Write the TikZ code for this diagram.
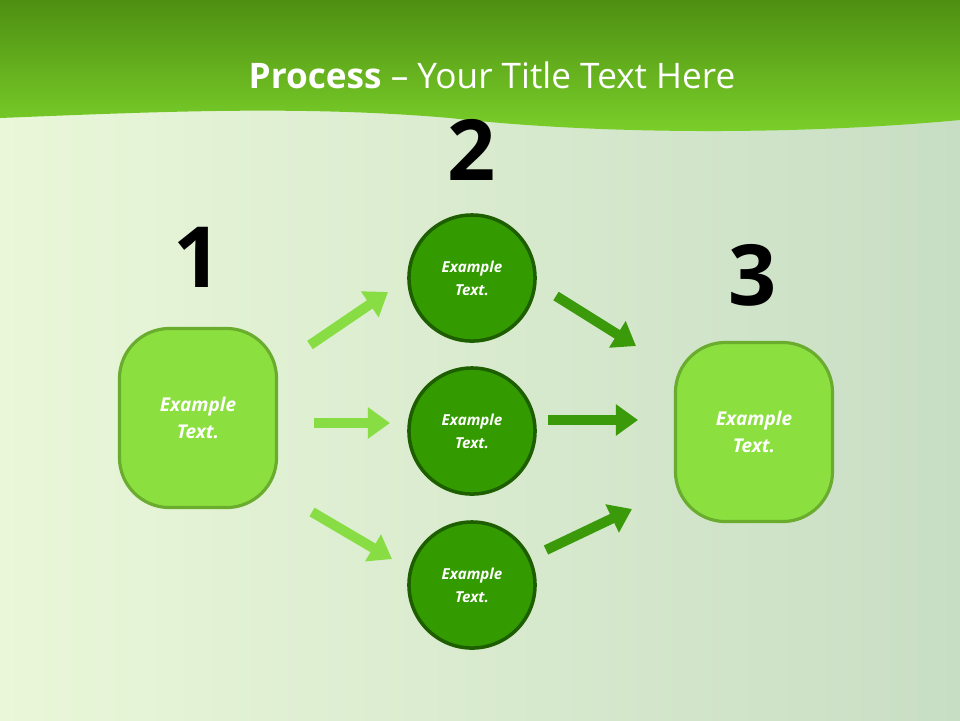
\documentclass[tikz,border=0pt]{standalone}
\usepackage{fontspec}
\setmainfont{Open Sans}
\usetikzlibrary{arrows.meta, positioning, shadings}
\definecolor{lightleaf}{HTML}{8BE03F}
\definecolor{leafedge}{HTML}{6AAC2E}
\definecolor{darkleaf}{HTML}{339A00}
\definecolor{darkedge}{HTML}{1D5E00}
\definecolor{lightarrow}{HTML}{88DD44}
\definecolor{darkarrow}{HTML}{3A9A0A}
\definecolor{headtop}{HTML}{4E8F12}
\definecolor{headbot}{HTML}{7BD02A}
\definecolor{bgleft}{HTML}{EAF7D9}
\definecolor{bgright}{HTML}{C8DEC4}

\begin{document}
\begin{tikzpicture}[
x=0.01cm, y=-0.01cm,
stepbox/.style={draw=leafedge, line width=0.9pt, fill=lightleaf, rounded corners=0.5cm,
  minimum width=1.57cm, minimum height=1.79cm, text=white, align=center,
  font=\fontsize{5.4}{7.5}\selectfont\bfseries\itshape},
stepcircle/.style={circle, draw=darkedge, line width=1pt, fill=darkleaf,
  minimum size=1.26cm, text=white, align=center,
  font=\fontsize{4.3}{6.5}\selectfont\bfseries\itshape},
number/.style={font=\fontsize{24}{24}\selectfont\bfseries},
lightflow/.style={draw=lightarrow, line width=0.1cm, -{Triangle[length=0.22cm, width=0.3cm]}},
darkflow/.style={draw=darkarrow, line width=0.1cm, -{Triangle[length=0.22cm, width=0.3cm]}},
]
% background
\useasboundingbox (0,0) rectangle (960,720);
\shade[left color=bgleft, right color=bgright] (0,0) rectangle (960,720);
\shade[top color=headtop, bottom color=headbot]
  (0,0) -- (960,0) -- (960,120) .. controls (800,135) and (600,135) .. (450,118)
  .. controls (300,105) and (150,112) .. (0,118) -- cycle;
% title
\node[text=white, font=\fontsize{10}{12}\selectfont] (title) at (492,75)
  {\textbf{Process} -- Your Title Text Here};
% numbers
\node[number] (n1) at (198,257) {1};
\node[number] (n2) at (472,150) {2};
\node[number] (n3) at (753,275) {3};
% boxes and circles
\node[stepbox] (left) at (198,418) {Example\\Text.};
\node[stepbox] (right) at (754,432) {Example\\Text.};
\node[stepcircle] (top) at (472,278) {Example\\Text.};
\node[stepcircle] (mid) at (472,431) {Example\\Text.};
\node[stepcircle] (bot) at (472,585) {Example\\Text.};
% arrow ends
\coordinate (a1) at (310,345); \coordinate (b1) at (388,292);
\coordinate (a2) at (314,423); \coordinate (b2) at (390,423);
\coordinate (a3) at (312,512); \coordinate (b3) at (392,559);
\coordinate (c1) at (556,296); \coordinate (d1) at (636,346);
\coordinate (c2) at (548,420); \coordinate (d2) at (638,420);
\coordinate (c3) at (546,550); \coordinate (d3) at (632,509);
% arrows
\draw[lightflow] (a1) -- (b1);
\draw[lightflow] (a2) -- (b2);
\draw[lightflow] (a3) -- (b3);
\draw[darkflow] (c1) -- (d1);
\draw[darkflow] (c2) -- (d2);
\draw[darkflow] (c3) -- (d3);
\end{tikzpicture}
\end{document}
